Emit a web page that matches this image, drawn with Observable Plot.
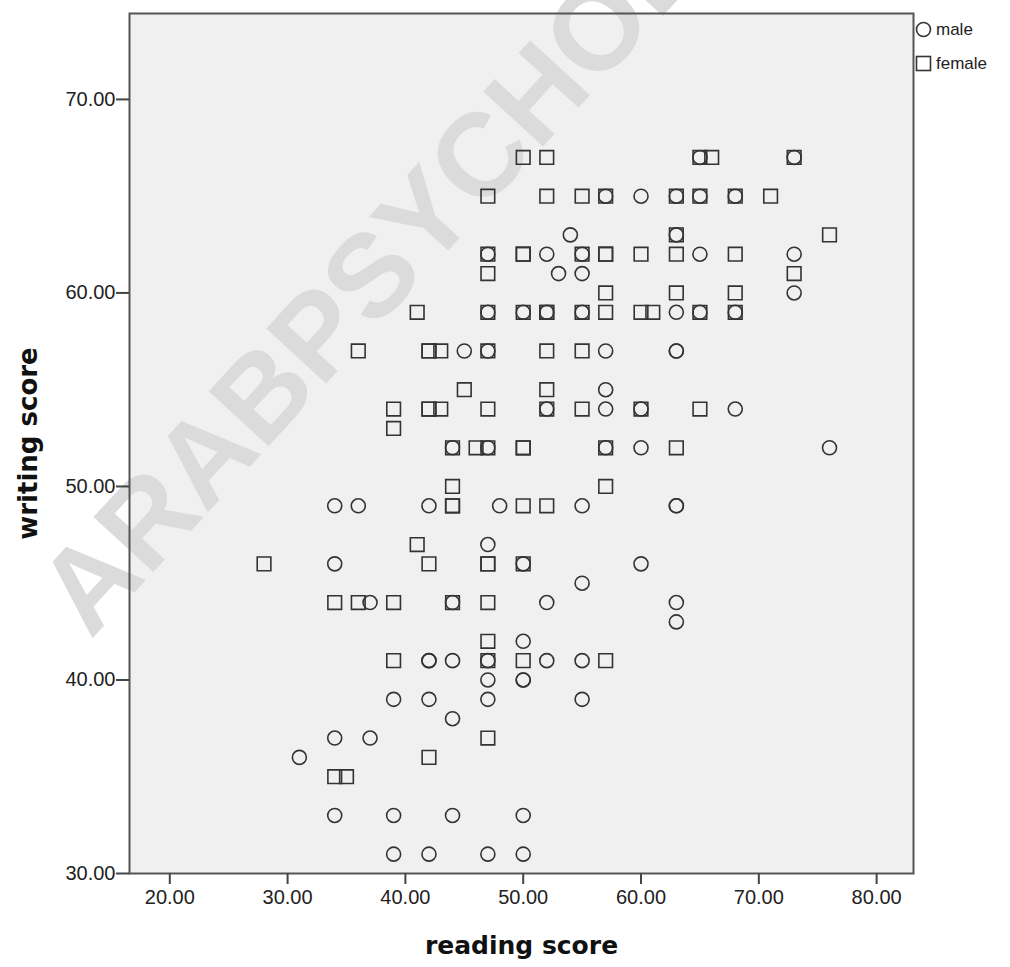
<!DOCTYPE html>
<html>
<head>
<meta charset="utf-8">
<script src="https://cdn.jsdelivr.net/npm/d3@7"></script>
<script src="https://cdn.jsdelivr.net/npm/@observablehq/plot@0.6"></script>
<style>
  html, body { margin: 0; padding: 0; background: #ffffff; }
  #wrap { position: relative; width: 1010px; height: 967px; overflow: hidden; }
  #legend { position: absolute; left: 915px; top: 20px; font-family: "Liberation Sans", Arial, sans-serif; font-size: 17px; color: #222; line-height: 1; }
  #legend .row { display: flex; align-items: center; height: 18px; margin-bottom: 16px; }
  #legend svg { display: block; margin-right: 4px; }
</style>
</head>
<body>
<div id="wrap">
  <div id="chart"></div>
  <div id="legend"></div>
</div>
<script>
// ---- data (reading score, writing score) ----
const maleRead  = [65,73, 57,60,63,65,68, 54,63, 47,52,55,65,73, 53,55, 73, 47,50,52,55,63,65,68, 45,47,57,63,63, 57, 52,57,60,68, 44,47,57,60,76, 34,36,42,48,55,63,63, 47, 34,50,60, 55, 37,44,52,63, 63, 50, 42,42,44,47,52,55, 47,50,50, 39,42,47,55, 44, 34,37, 31, 34,39,44,50, 39,42,47,50];
const maleWrite = [67,67, 65,65,65,65,65, 63,63, 62,62,62,62,62, 61,61, 60, 59,59,59,59,59,59,59, 57,57,57,57,57, 55, 54,54,54,54, 52,52,52,52,52, 49,49,49,49,49,49,49, 47, 46,46,46, 45, 44,44,44,44, 43, 42, 41,41,41,41,41,41, 40,40,40, 39,39,39,39, 38, 37,37, 36, 33,33,33,33, 31,31,31,31];

const femaleRead  = [50,52,65,66,73, 47,52,55,57,63,65,68,71, 63,76, 47,50,50,55,57,57,60,63,68, 47,73, 57,63,68, 41,47,50,52,52,55,57,60,61,65,68, 36,42,42,43,47,52,55, 45,52, 39,42,42,43,47,52,55,60,65, 39, 44,46,47,50,50,57,63, 44,57, 44,44,50,52, 41, 28,42,47,47,50, 34,36,39,44,47, 47, 39,47,50,57, 47, 42, 34,35];
const femaleWrite = [67,67,67,67,67, 65,65,65,65,65,65,65,65, 63,63, 62,62,62,62,62,62,62,62,62, 61,61, 60,60,60, 59,59,59,59,59,59,59,59,59,59,59, 57,57,57,57,57,57,57, 55,55, 54,54,54,54,54,54,54,54,54, 53, 52,52,52,52,52,52,52, 50,50, 49,49,49,49, 47, 46,46,46,46,46, 44,44,44,44,44, 42, 41,41,41,41, 37, 36, 35,35];

const xTicks = [20, 30, 40, 50, 60, 70, 80];
const yTicks = [30, 40, 50, 60, 70];
const groups = ["male", "female"];
const xTitle = "reading score";
const yTitle = "writing score";
const watermark = "ARABPSYCHOLOGY";

const male = maleRead.map((r, i) => ({read: r, write: maleWrite[i], gender: "male"}));
const female = femaleRead.map((r, i) => ({read: r, write: femaleWrite[i], gender: "female"}));

const font = "'Liberation Sans', Arial, sans-serif";
const titleFont = "'DejaVu Sans', sans-serif";
const ink = "#333";

const chart = Plot.plot({
  width: 1010,
  height: 967,
  marginLeft: 129,
  marginRight: 97,
  marginTop: 13,
  marginBottom: 94,
  style: {background: "#ffffff", fontFamily: font, fontSize: "20px", color: "#222", overflow: "visible"},
  x: {domain: [16.58, 83.13], label: null},
  y: {domain: [30, 74.44], label: null},
  marks: [
    Plot.frame({fill: "#f0f0f0", stroke: "none"}),
    Plot.text([watermark], {
      ariaLabel: "watermark",
      frameAnchor: "top-left", dx: -39, dy: 627,
      rotate: -47.5, textAnchor: "start", lineAnchor: "bottom",
      fontSize: 118, fontWeight: "bold", fontFamily: font, fill: "#dbdbdb"
    }),
    Plot.dot(male, {x: "read", y: "write", symbol: "circle", r: 7, stroke: ink, strokeWidth: 1.6, fill: "none"}),
    Plot.dot(female, {x: "read", y: "write", symbol: "square", r: 7.7, stroke: ink, strokeWidth: 1.6, fill: "none"}),
    Plot.frame({stroke: "#555", strokeWidth: 2}),
    Plot.axisX({ticks: xTicks, tickFormat: d => d.toFixed(2), tickSize: 11, tickPadding: 5, stroke: "#444", strokeWidth: 2, fill: "#222", label: null}),
    Plot.axisY({ticks: yTicks, tickFormat: d => d.toFixed(2), tickSize: 13, tickPadding: 1, stroke: "#444", strokeWidth: 2, fill: "#222", label: null}),
    Plot.text([xTitle], {frameAnchor: "bottom", dy: 80, textAnchor: "middle", fontSize: 25, fontWeight: "bold", fontFamily: titleFont, fill: "#111"}),
    Plot.text([yTitle], {frameAnchor: "left", dx: -101, textAnchor: "middle", rotate: -90, fontSize: 26, fontWeight: "bold", fontFamily: titleFont, fill: "#111"})
  ]
});
document.getElementById("chart").appendChild(chart);

// legend
const legend = d3.select("#legend");
groups.forEach(g => {
  const row = legend.append("div").attr("class", "row");
  const s = row.append("svg").attr("width", 17).attr("height", 17);
  if (g === "male") s.append("circle").attr("cx", 8.5).attr("cy", 8.5).attr("r", 7).attr("fill", "none").attr("stroke", ink).attr("stroke-width", 1.6);
  else s.append("rect").attr("x", 1.5).attr("y", 1.5).attr("width", 14).attr("height", 14).attr("fill", "none").attr("stroke", ink).attr("stroke-width", 1.6);
  row.append("span").text(g);
});
</script>
</body>
</html>
